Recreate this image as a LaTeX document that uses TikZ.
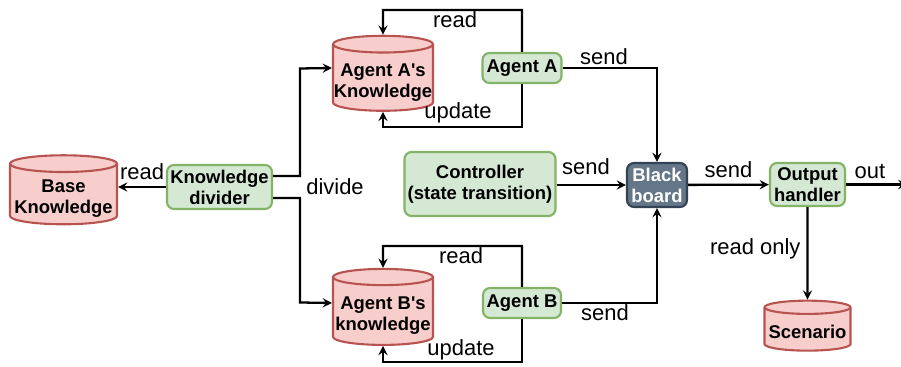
\documentclass[tikz,border=0pt]{standalone}
\usepackage{fontspec}
\setmainfont{Liberation Sans}[Ligatures=TeXOff]
\usepackage{tikz}
\usetikzlibrary{shapes.geometric}

\definecolor{storefill}{HTML}{F8CECC}
\definecolor{storeline}{HTML}{B85450}
\definecolor{procfill}{HTML}{D5E8D4}
\definecolor{procline}{HTML}{82B366}
\definecolor{boardfill}{HTML}{647687}
\definecolor{boardline}{HTML}{314354}

% text of a store, set a little below the middle
\newcommand{\cyltxt}[1]{\raisebox{0pt}[\dimexpr\height+2.5pt\relax][\dimexpr\depth-2.5pt\relax]{%
  \begin{tabular}{@{}c@{}}#1\end{tabular}}}

\tikzset{
  store/.style={cylinder, shape border rotate=90, aspect=0.17, draw=storeline,
    fill=storefill, line width=1.2pt, inner sep=0pt,
    font=\fontsize{10.5}{12}\selectfont\bfseries},
  proc/.style={rectangle, rounded corners=4pt, draw=procline, fill=procfill,
    line width=1.2pt, align=center, inner sep=1pt,
    font=\fontsize{10.5}{12}\selectfont\bfseries},
  board/.style={rectangle, rounded corners=4pt, draw=boardline, fill=boardfill,
    line width=1.2pt, align=center, inner sep=1pt, text=white,
    font=\fontsize{10.5}{12}\selectfont\bfseries},
  lbl/.style={font=\fontsize{12.5}{14}\selectfont},
  flow/.style={line width=1.3pt,-stealth}
}

\begin{document}
\begin{tikzpicture}
  \useasboundingbox (0,0) rectangle (18.02,7.34);

  \node[store, minimum width=2.14cm, minimum height=1.38cm] (base) at (1.27,3.45) {\cyltxt{Base\\Knowledge}};
  \node[proc, minimum width=2.1cm, minimum height=0.88cm] (divider) at (4.39,3.6) {Knowledge\\divider};
  \node[store, minimum width=2cm, minimum height=1.5cm] (kA) at (7.66,5.78) {\cyltxt{Agent A's\\Knowledge}};
  \node[store, minimum width=2cm, minimum height=1.52cm] (kB) at (7.66,1.11) {\cyltxt{Agent B's\\knowledge}};
  \node[proc, minimum width=1.58cm, minimum height=0.6cm] (agentA) at (10.44,5.98) {Agent A};
  \node[proc, minimum width=1.56cm, minimum height=0.6cm] (agentB) at (10.44,1.28) {Agent B};
  \node[proc, minimum width=3.02cm, minimum height=1.28cm] (ctrl) at (9.6,3.66) {Controller\\(state transition)};
  \node[board, minimum width=1.2cm, minimum height=0.88cm] (bb) at (13.14,3.64) {Black\\board};
  \node[proc, minimum width=1.5cm, minimum height=0.86cm] (outh) at (16.15,3.65) {Output\\handler};
  \node[store, minimum width=1.72cm, minimum height=1cm] (scen) at (16.15,0.75) {\cyltxt{Scenario}};

  \coordinate (outend) at (18.15,3.65);

  % divider
  \draw[flow] (divider.west) -- (divider.west -| base.east) node[lbl, pos=0.5, above] {read};
  \draw[flow] (divider.east |- 0,3.82) -| (6,5.97) -- (kA.west |- agentA);
  \draw[flow] (divider.east |- 0,3.38) -| (6,1.29) -- (kB.west |- agentB);
  \node[lbl] (divlbl) at (6.7,3.6) {divide};

  % agent A loop
  \draw[flow] (agentA.north) |- (7.66,7.14) -- (kA.north);
  \draw[flow] (agentA.south) |- (7.66,4.8) -- (kA.south);
  \node[lbl] (readA) at (9.1,6.94) {read};
  \node[lbl] (updA) at (9.16,5.08) {update};

  % agent B loop
  \draw[flow] (agentB.north) |- (7.66,2.42) -- (kB.north);
  \draw[flow] (agentB.south) |- (7.66,0.1) -- (kB.south);
  \node[lbl] (readB) at (9.22,2.22) {read};
  \node[lbl] (updB) at (9.22,0.34) {update};

  % to the board
  \draw[flow] (agentA.east) -| (bb.north);
  \draw[flow] (agentB.east) -| (bb.south);
  \draw[flow] (ctrl.east |- bb) -- (bb.west);
  \node[lbl] (sendA) at (12.08,6.2) {send};
  \node[lbl] (sendB) at (12.1,1.08) {send};
  \node[lbl] (sendC) at (11.72,4.0) {send};

  % output
  \draw[flow] (bb) -- (outh) node[lbl, pos=0.5, above] {send};
  \draw[flow] (outh.south) -- (scen.north) node[lbl, pos=0.45, left] {read only};
  \draw[flow] (outh) -- (outend);
  \node[lbl] (outlbl) at (17.4,3.9) {out};
\end{tikzpicture}
\end{document}
